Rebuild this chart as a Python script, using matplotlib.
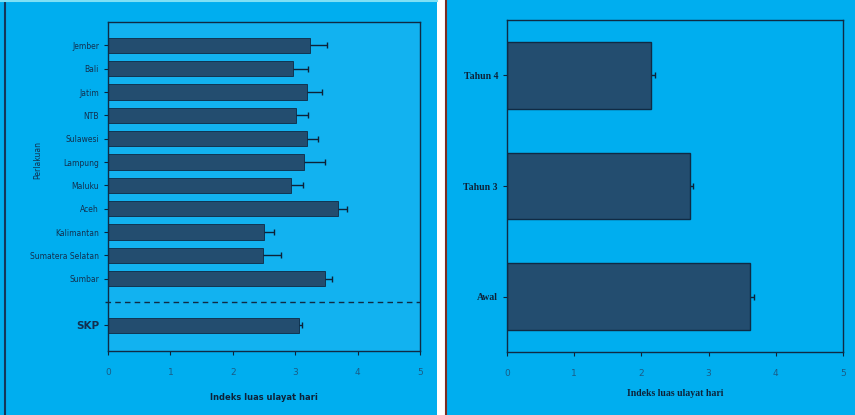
import numpy as np
import matplotlib.pyplot as plt
from matplotlib.patches import Rectangle
from matplotlib.lines import Line2D

# left panel: regions, top to bottom, then the overall value below the dashed line
regions = ["Jember", "Bali", "Jatim", "NTB", "Sulawesi", "Lampung", "Maluku",
           "Aceh", "Kalimantan", "Sumatera Selatan", "Sumbar"]
region_vals = [3.24, 2.97, 3.19, 3.01, 3.19, 3.14, 2.93, 3.69, 2.50, 2.48, 3.48]
region_err = [0.27, 0.24, 0.24, 0.20, 0.18, 0.34, 0.19, 0.14, 0.16, 0.30, 0.11]
total_label = "SKP"
total_val = 3.06
total_err = 0.05

# right panel: periods, bottom to top
periods = ["Awal", "Tahun 3", "Tahun 4"]
period_vals = [3.62, 2.72, 2.14]
period_err = [0.05, 0.05, 0.06]

xlabel = "Indeks luas ulayat hari"
ylabel_left = "Perlakuan"

bg = "#00AEEF"
bar_c = "#234D6F"
edge_c = "#0F2A44"

W, H = 855, 415
fig = plt.figure(figsize=(W / 100, H / 100), dpi=100, facecolor="white")

# panel backgrounds, kept behind the axes
fig.patches.append(Rectangle((0, 0), 437 / W, 1, transform=fig.transFigure,
                             facecolor=bg, edgecolor="none", zorder=-2))
fig.patches.append(Rectangle((445 / W, 0), 410 / W, 1, transform=fig.transFigure,
                             facecolor=bg, edgecolor="none", zorder=-2))
fig.lines.append(Line2D([5 / W, 5 / W], [0, 1], transform=fig.transFigure,
                        color="#14365A", lw=1.5, zorder=-1))
fig.lines.append(Line2D([0, 437 / W], [1 - 1.5 / H, 1 - 1.5 / H], transform=fig.transFigure,
                        color="#7FE0F5", lw=1.5, zorder=-1))
fig.lines.append(Line2D([446 / W, 446 / W], [0, 1], transform=fig.transFigure,
                        color="#7A2E22", lw=1.5, zorder=-1))


def frame(ax):
    ax.set_facecolor(bg)
    ax.set_zorder(1)
    for s in ax.spines.values():
        s.set_color(edge_c)
        s.set_linewidth(1.0)
    ax.tick_params(colors="#0D2238", labelsize=6.5, length=3, width=0.8)


def bars(ax, y, v, e, h, lw):
    # error bars go under the bars so only the upper arm shows
    ax.errorbar(v, y, xerr=e, fmt="none", ecolor="#0D2238", elinewidth=1.0,
                capsize=2, capthick=1.0, zorder=1)
    ax.barh(y, v, height=h, color=bar_c, edgecolor=edge_c, linewidth=lw, zorder=2)


# ---- left chart
axl = fig.add_axes([108 / W, (H - 351) / H, 312 / W, 329 / H])
frame(axl)
axl.set_facecolor("#12B2F0")
ypos = list(range(len(regions))) + [len(regions) + 1]
bars(axl, ypos, region_vals + [total_val], region_err + [total_err], 0.65, 0.6)
axl.plot([-0.05, 5], [len(regions), len(regions)], color=edge_c, lw=1.0,
         ls=(0, (4, 3)), clip_on=False)
axl.set_yticks(ypos)
axl.set_yticklabels(regions + [total_label], fontsize=5.5, color="#13304F")
axl.get_yticklabels()[-1].set_fontsize(7.5)
axl.get_yticklabels()[-1].set_fontweight("bold")
axl.set_ylim(len(regions) + 2.1, -1)
axl.set_xlim(0, 5)
axl.set_xticks(range(6))
axl.set_xlabel(xlabel, fontsize=6, fontweight="bold", color="#0D2238", labelpad=12)
axl.tick_params(axis="x", pad=9, labelcolor="#1A5C86")
fig.text(38 / W, 1 - 160 / H, ylabel_left, rotation=90, fontsize=5.5,
         color="#13304F", ha="center", va="center")

# ---- right chart
axr = fig.add_axes([507 / W, (H - 352) / H, 336 / W, 332 / H])
frame(axr)
bars(axr, range(len(periods)), period_vals, period_err, 0.6, 1.0)
axr.set_yticks(range(len(periods)))
axr.set_yticklabels(periods, fontsize=7, family="Liberation Serif",
                    fontweight="bold", color="#0D2238")
axr.set_ylim(-0.5, len(periods) - 0.5)
axr.set_xlim(0, 5)
axr.set_xticks(range(6))
axr.set_xlabel(xlabel, fontsize=7, family="Liberation Serif", fontweight="bold",
               color="#0D2238", labelpad=8)
axr.tick_params(axis="x", pad=9, labelcolor="#1A5C86")

fig.savefig("out.png", dpi=100, facecolor=fig.get_facecolor())
